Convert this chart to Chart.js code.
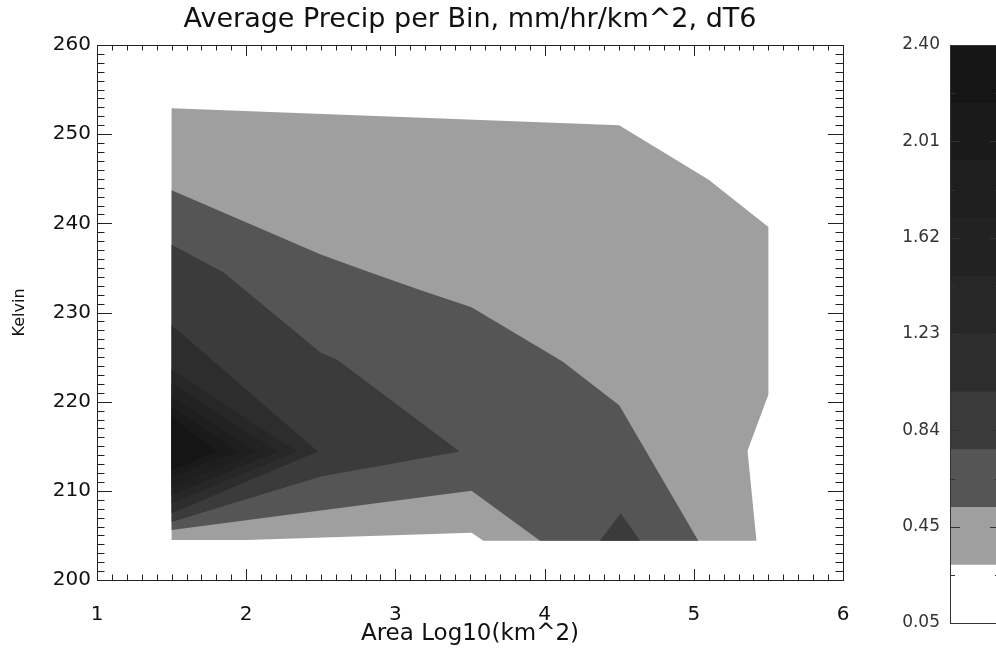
<!DOCTYPE html>
<html>
<head>
<meta charset="utf-8">
<title>Average Precip per Bin</title>
<script src="https://cdn.jsdelivr.net/npm/chart.js@4.4.0/dist/chart.umd.min.js"></script>
<style>
  html, body { margin: 0; padding: 0; background: #fff; overflow: hidden; }
  #wrap { position: relative; width: 996px; height: 658px; overflow: hidden; }
  #precipChart { position: absolute; left: 0; top: 0; }
  #scaleChart { position: absolute; left: 880px; top: 0; }
</style>
</head>
<body>
<div id="wrap">
  <canvas id="precipChart" width="996" height="658"></canvas>
  <canvas id="scaleChart" width="140" height="658"></canvas>
</div>
<script>
// axis ticks
const xTicks = [1, 2, 3, 4, 5, 6];
const yTicks = [200, 210, 220, 230, 240, 250, 260];

// contour levels (mm/hr/km^2), lowest first, and the grey of each band
const levels = [0.05, 0.285, 0.52, 0.755, 0.99, 1.225, 1.46, 1.695, 1.93, 2.165, 2.40];
const levelColors = ['#ffffff', '#9f9f9f', '#555555', '#3b3b3b', '#2d2d2d', '#272727', '#222222', '#1e1e1e', '#1a1a1a', '#151515'];
const scaleLabels = ['0.05', '0.45', '0.84', '1.23', '1.62', '2.01', '2.40'];

// filled contour outlines, [log10 area, kelvin]
const band1 = [[1.50, 252.9], [4.50, 251.0], [5.10, 244.9], [5.50, 239.6], [5.50, 220.8], [5.36, 214.5],
  [5.42, 204.4], [3.59, 204.4], [3.51, 205.3], [2.00, 204.5], [1.50, 204.5]];
const band2 = [[1.50, 243.7], [2.50, 236.5], [2.78, 234.8], [3.17, 232.5], [3.51, 230.6], [4.12, 224.5],
  [4.50, 219.6], [5.03, 204.4], [3.97, 204.4], [3.51, 210.0], [1.50, 205.6]];
const band3 = [[1.50, 237.6], [1.85, 234.5], [2.50, 225.5], [2.61, 224.7], [3.43, 214.4], [2.50, 211.6], [1.50, 206.5]];
const band3b = [[4.37, 204.4], [4.51, 207.5], [4.64, 204.4]];
const band4 = [[1.50, 228.6], [2.48, 214.4], [1.50, 207.5]];
const band5 = [[1.50, 223.6], [2.34, 214.4], [1.50, 208.6]];
const band6 = [[1.50, 222.1], [2.21, 214.4], [1.50, 209.5]];
const band7 = [[1.50, 220.5], [2.07, 214.4], [1.50, 210.4]];
const band8 = [[1.50, 219.4], [1.94, 214.4], [1.50, 211.6]];
const band9 = [[1.50, 218.3], [1.80, 214.4], [1.50, 212.3]];

// [band index, outline] drawn from the outside in
const contours = [[1, band1], [2, band2], [3, band3], [3, band3b], [4, band4],
  [5, band5], [6, band6], [7, band7], [8, band8], [9, band9]];

const fontFamily = "'DejaVu Sans', sans-serif";
const textColor = '#111';

// box round the plot with IDL style inward ticks
const frameTicks = {
  id: 'frameTicks',
  afterDraw(chart, args, opts) {
    const {ctx, chartArea: a} = chart;
    ctx.save();
    ctx.strokeStyle = opts.color;
    ctx.lineWidth = 1;
    ctx.beginPath();
    const xs = chart.scales.x;
    const ys = chart.scales.y;
    const xLine = (vals, len) => vals.forEach(v => {
      const p = Math.round(xs.getPixelForValue(v)) + 0.5;
      ctx.moveTo(p, a.bottom); ctx.lineTo(p, a.bottom - len);
      ctx.moveTo(p, a.top); ctx.lineTo(p, a.top + len);
    });
    const yLine = (vals, len) => vals.forEach(v => {
      const p = Math.round(ys.getPixelForValue(v)) + 0.5;
      ctx.moveTo(a.left, p); ctx.lineTo(a.left + len, p);
      ctx.moveTo(a.right, p); ctx.lineTo(a.right - len, p);
    });
    if (opts.xMajor) xLine(opts.xMajor, opts.xLen);
    if (opts.xMinor) xLine(opts.xMinor, opts.xLen / 2);
    yLine(opts.yMajor, opts.yLen);
    yLine(opts.yMinor, opts.yLen / 2);
    ctx.stroke();
    ctx.strokeRect(Math.round(a.left) + 0.5, Math.round(a.top) + 0.5,
      Math.round(a.right - a.left), Math.round(a.bottom - a.top));
    ctx.restore();
  }
};

const xMinor = [];
for (let v = 10; v <= 60; v++) xMinor.push(v / 10);
const yMinor = [];
for (let v = 200; v <= 260; v++) yMinor.push(v);

const datasets = contours.map(([lvl, pts], i) => ({
  data: pts.map(p => ({x: p[0], y: p[1]})),
  showLine: true,
  fill: 'shape',
  backgroundColor: levelColors[lvl],
  borderColor: 'rgba(0,0,0,0)',
  borderWidth: 0,
  pointRadius: 0,
  tension: 0,
  order: contours.length - i
}));

new Chart(document.getElementById('precipChart'), {
  type: 'scatter',
  data: {datasets: datasets},
  options: {
    responsive: false,
    animation: false,
    layout: {padding: {top: 0, right: 153, bottom: 0, left: 0}},
    plugins: {
      legend: {display: false},
      tooltip: {enabled: false},
      frameTicks: {color: '#222', xMajor: xTicks, xMinor: xMinor, yMajor: yTicks, yMinor: yMinor, xLen: 11, yLen: 15}
    },
    scales: {
      x: {
        type: 'linear', min: 1, max: 6,
        afterBuildTicks: s => { s.ticks = xTicks.map(v => ({value: v})); },
        afterFit: s => { s.height = 78; },
        grid: {display: false, drawTicks: false},
        border: {display: false},
        ticks: {font: {family: fontFamily, size: 20}, color: textColor, padding: 23, maxRotation: 0},
        title: {display: true, text: 'Area Log10(km^2)', font: {family: fontFamily, size: 23}, color: textColor, padding: {top: 0, bottom: 10}}
      },
      // top axis only carries the plot title, centred over the plot box
      x2: {
        type: 'linear', position: 'top', min: 1, max: 6,
        afterFit: s => { s.height = 45; },
        grid: {display: false, drawTicks: false},
        border: {display: false},
        ticks: {display: false},
        title: {display: true, text: 'Average Precip per Bin, mm/hr/km^2, dT6', font: {family: fontFamily, size: 27}, color: textColor, padding: {top: 4, bottom: 0}}
      },
      y: {
        type: 'linear', min: 200, max: 260,
        afterBuildTicks: s => { s.ticks = yTicks.map(v => ({value: v})); },
        afterFit: s => { s.width = 97; },
        grid: {display: false, drawTicks: false},
        border: {display: false},
        ticks: {font: {family: fontFamily, size: 20}, color: textColor, padding: 6},
        title: {display: true, text: 'Kelvin', font: {family: fontFamily, size: 16}, color: textColor, padding: {top: 10, bottom: 0}}
      }
    }
  },
  plugins: [frameTicks]
});

// colour bar
const cbTickVals = scaleLabels.map((_, i) => levels[0] + i * (levels[levels.length - 1] - levels[0]) / (scaleLabels.length - 1));
const cbMinor = [];
for (let i = 0; i < cbTickVals.length - 1; i++) cbMinor.push((cbTickVals[i] + cbTickVals[i + 1]) / 2);

new Chart(document.getElementById('scaleChart'), {
  type: 'bar',
  data: {
    labels: [''],
    datasets: levelColors.map((c, i) => ({
      data: [[levels[i], levels[i + 1]]],
      backgroundColor: c,
      borderWidth: 0,
      grouped: false,
      barPercentage: 1,
      categoryPercentage: 1
    }))
  },
  options: {
    responsive: false,
    animation: false,
    layout: {padding: {top: 45, right: 20, bottom: 35, left: 0}},
    plugins: {
      legend: {display: false},
      tooltip: {enabled: false},
      frameTicks: {color: '#333', yMajor: cbTickVals, yMinor: cbMinor, yLen: 10}
    },
    scales: {
      x: {display: false},
      y: {
        min: levels[0], max: levels[levels.length - 1],
        afterBuildTicks: s => { s.ticks = cbTickVals.map(v => ({value: v})); },
        afterFit: s => { s.width = 70; },
        grid: {display: false, drawTicks: false},
        border: {display: false},
        ticks: {font: {family: fontFamily, size: 17}, color: '#333', padding: 10, callback: (v, i) => scaleLabels[i]}
      }
    }
  },
  plugins: [frameTicks]
});
</script>
</body>
</html>
